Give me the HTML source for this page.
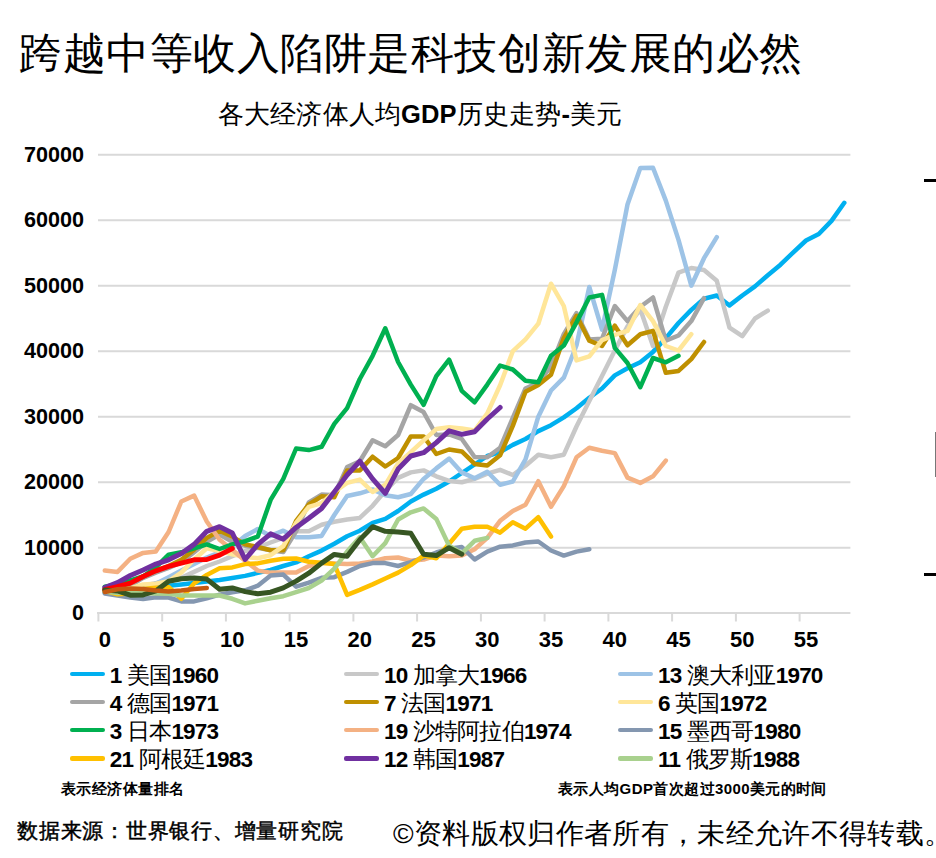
<!DOCTYPE html>
<html><head><meta charset="utf-8">
<style>
html,body{margin:0;padding:0;background:#fff;}
body{width:936px;height:858px;position:relative;overflow:hidden;font-family:"Liberation Sans",sans-serif;color:#000;}
.t{position:absolute;white-space:nowrap;}
#title{left:19px;top:28px;font-size:43px;line-height:50px;letter-spacing:0.55px;}
#sub{left:218px;top:99px;font-size:25.5px;line-height:30px;letter-spacing:0.15px;}
#sub b{font-weight:bold;}
.yl{position:absolute;right:852px;width:80px;text-align:right;font-size:21.6px;font-weight:bold;line-height:26px;}
.xl{position:absolute;top:627px;width:60px;text-align:center;font-size:22px;font-weight:bold;line-height:26px;}
.lgl{position:absolute;width:35.3px;height:4.2px;border-radius:2.1px;}
.lgt{position:absolute;font-size:22.5px;font-weight:bold;line-height:28px;white-space:nowrap;letter-spacing:-0.8px;}
.cj{font-weight:normal;}
#note1{left:61px;top:779px;font-size:15px;letter-spacing:0.45px;font-weight:bold;line-height:20px;}
#note2{left:558px;top:779px;font-size:15px;letter-spacing:0.4px;font-weight:bold;line-height:20px;}
#src{left:17px;top:817px;font-size:21px;letter-spacing:0.75px;font-weight:normal;-webkit-text-stroke:0.45px #000;line-height:28px;}
#copy{left:393px;top:815px;font-size:28px;line-height:38px;letter-spacing:0.33px;}
.mk{position:absolute;background:#000;}
</style></head><body>
<div class="t" id="title">跨越中等收入陷阱是科技创新发展的必然</div>
<div class="t" id="sub">各大经济体人均<b>GDP</b>历史走势<b>-</b>美元</div>
<svg width="936" height="858" style="position:absolute;left:0;top:0">
<line x1="98" y1="547.7" x2="850.4" y2="547.7" stroke="#D9D9D9" stroke-width="2"/>
<line x1="98" y1="482.2" x2="850.4" y2="482.2" stroke="#D9D9D9" stroke-width="2"/>
<line x1="98" y1="416.7" x2="850.4" y2="416.7" stroke="#D9D9D9" stroke-width="2"/>
<line x1="98" y1="351.2" x2="850.4" y2="351.2" stroke="#D9D9D9" stroke-width="2"/>
<line x1="98" y1="285.7" x2="850.4" y2="285.7" stroke="#D9D9D9" stroke-width="2"/>
<line x1="98" y1="220.2" x2="850.4" y2="220.2" stroke="#D9D9D9" stroke-width="2"/>
<line x1="98" y1="154.7" x2="850.4" y2="154.7" stroke="#D9D9D9" stroke-width="2"/>
<line x1="97" y1="613.1" x2="850.4" y2="613.1" stroke="#D9D9D9" stroke-width="2"/>
<line x1="98.4" y1="612" x2="98.4" y2="621.5" stroke="#D9D9D9" stroke-width="2"/>
<line x1="162.2" y1="612" x2="162.2" y2="621.5" stroke="#D9D9D9" stroke-width="2"/>
<line x1="225.9" y1="612" x2="225.9" y2="621.5" stroke="#D9D9D9" stroke-width="2"/>
<line x1="289.6" y1="612" x2="289.6" y2="621.5" stroke="#D9D9D9" stroke-width="2"/>
<line x1="353.4" y1="612" x2="353.4" y2="621.5" stroke="#D9D9D9" stroke-width="2"/>
<line x1="417.1" y1="612" x2="417.1" y2="621.5" stroke="#D9D9D9" stroke-width="2"/>
<line x1="480.9" y1="612" x2="480.9" y2="621.5" stroke="#D9D9D9" stroke-width="2"/>
<line x1="544.6" y1="612" x2="544.6" y2="621.5" stroke="#D9D9D9" stroke-width="2"/>
<line x1="608.4" y1="612" x2="608.4" y2="621.5" stroke="#D9D9D9" stroke-width="2"/>
<line x1="672.1" y1="612" x2="672.1" y2="621.5" stroke="#D9D9D9" stroke-width="2"/>
<line x1="735.9" y1="612" x2="735.9" y2="621.5" stroke="#D9D9D9" stroke-width="2"/>
<line x1="799.6" y1="612" x2="799.6" y2="621.5" stroke="#D9D9D9" stroke-width="2"/>
<path d="M104.8,592.7 L117.5,591.6 L130.3,590.3 L143.1,589.0 L155.8,587.7 L168.6,585.7 L181.3,584.4 L194.1,583.1 L206.8,581.5 L219.6,580.0 L232.3,578.1 L245.1,575.9 L257.8,572.9 L270.6,570.0 L283.3,566.0 L296.1,562.4 L308.8,556.2 L321.6,550.6 L334.3,543.8 L347.1,536.2 L359.8,530.7 L372.6,522.8 L385.3,518.9 L398.1,511.0 L410.8,501.5 L423.6,494.6 L436.3,488.8 L449.1,481.5 L461.8,473.0 L474.6,464.5 L487.3,456.0 L500.1,452.1 L512.8,444.9 L525.5,439.0 L538.3,431.1 L551.0,425.2 L563.8,417.4 L576.5,408.2 L589.3,397.7 L602.0,388.5 L614.8,375.4 L627.5,368.2 L640.3,362.3 L653.0,351.9 L665.8,338.1 L678.5,323.0 L691.3,309.9 L704.0,298.8 L716.8,295.5 L729.5,305.4 L742.3,295.5 L755.0,286.4 L767.8,275.2 L780.5,264.7 L793.3,252.3 L806.0,240.5 L818.8,234.0 L831.5,220.9 L844.3,202.8" fill="none" stroke="#00B0F0" stroke-width="4.5" stroke-linejoin="round" stroke-linecap="round"/>
<path d="M104.8,591.6 L117.5,590.3 L130.3,588.3 L143.1,585.7 L155.8,583.1 L168.6,580.5 L181.3,577.8 L194.1,571.9 L206.8,566.0 L219.6,561.5 L232.3,556.2 L245.1,551.0 L257.8,547.7 L270.6,542.5 L283.3,537.9 L296.1,531.3 L308.8,531.3 L321.6,524.8 L334.3,521.7 L347.1,519.5 L359.8,517.9 L372.6,505.8 L385.3,490.7 L398.1,477.9 L410.8,472.4 L423.6,470.4 L436.3,476.3 L449.1,480.9 L461.8,482.2 L474.6,478.9 L487.3,473.7 L500.1,469.8 L512.8,475.0 L525.5,465.8 L538.3,454.7 L551.0,457.3 L563.8,454.7 L576.5,426.5 L589.3,401.0 L602.0,376.1 L614.8,350.5 L627.5,326.3 L640.3,309.3 L653.0,346.0 L665.8,306.7 L678.5,272.6 L691.3,268.0 L704.0,270.0 L716.8,280.8 L729.5,327.6 L742.3,336.1 L755.0,318.5 L767.8,310.6" fill="none" stroke="#C8C8C8" stroke-width="4.5" stroke-linejoin="round" stroke-linecap="round"/>
<path d="M104.8,592.2 L117.5,593.6 L130.3,591.6 L143.1,588.3 L155.8,583.7 L168.6,577.2 L181.3,570.6 L194.1,564.1 L206.8,557.5 L219.6,552.3 L232.3,546.4 L245.1,535.9 L257.8,529.0 L270.6,535.9 L283.3,530.7 L296.1,537.2 L308.8,537.2 L321.6,535.9 L334.3,515.0 L347.1,496.0 L359.8,493.3 L372.6,489.4 L385.3,495.3 L398.1,497.3 L410.8,494.0 L423.6,478.9 L436.3,468.4 L449.1,458.6 L461.8,472.4 L474.6,478.3 L487.3,471.7 L500.1,484.8 L512.8,481.5 L525.5,459.3 L538.3,416.7 L551.0,390.5 L563.8,377.7 L576.5,345.3 L589.3,287.0 L602.0,329.6 L614.8,270.0 L627.5,204.5 L640.3,168.1 L653.0,167.8 L665.8,200.6 L678.5,239.9 L691.3,285.7 L704.0,258.2 L716.8,237.2" fill="none" stroke="#9DC3E6" stroke-width="4.5" stroke-linejoin="round" stroke-linecap="round"/>
<path d="M104.8,591.6 L117.5,589.6 L130.3,585.7 L143.1,577.8 L155.8,572.6 L168.6,568.0 L181.3,562.1 L194.1,552.3 L206.8,541.8 L219.6,534.6 L232.3,541.8 L245.1,545.7 L257.8,547.7 L270.6,550.3 L283.3,552.0 L296.1,531.3 L308.8,502.5 L321.6,494.6 L334.3,495.3 L347.1,467.1 L359.8,461.2 L372.6,440.3 L385.3,446.2 L398.1,435.0 L410.8,405.2 L423.6,412.1 L436.3,435.0 L449.1,434.4 L461.8,439.0 L474.6,457.0 L487.3,457.3 L500.1,447.8 L512.8,418.0 L525.5,388.5 L538.3,382.6 L551.0,366.3 L563.8,334.2 L576.5,313.2 L589.3,339.4 L602.0,338.8 L614.8,306.0 L627.5,321.1 L640.3,306.7 L653.0,297.5 L665.8,340.7 L678.5,335.5 L691.3,321.1 L704.0,298.1" fill="none" stroke="#A5A5A5" stroke-width="4.5" stroke-linejoin="round" stroke-linecap="round"/>
<path d="M104.8,589.6 L117.5,587.0 L130.3,583.1 L143.1,576.5 L155.8,570.6 L168.6,566.0 L181.3,559.8 L194.1,549.7 L206.8,537.9 L219.6,530.7 L232.3,536.6 L245.1,544.4 L257.8,547.0 L270.6,550.3 L283.3,550.3 L296.1,520.8 L308.8,504.5 L321.6,496.3 L334.3,497.3 L347.1,470.4 L359.8,470.4 L372.6,456.7 L385.3,466.5 L398.1,458.0 L410.8,436.4 L423.6,436.4 L436.3,454.0 L449.1,449.5 L461.8,451.4 L474.6,463.9 L487.3,465.5 L500.1,455.3 L512.8,425.9 L525.5,391.8 L538.3,384.9 L551.0,374.8 L563.8,338.1 L576.5,315.8 L589.3,340.7 L602.0,346.0 L614.8,325.7 L627.5,345.3 L640.3,334.2 L653.0,330.9 L665.8,372.8 L678.5,370.9 L691.3,359.1 L704.0,342.0" fill="none" stroke="#BF9000" stroke-width="4.5" stroke-linejoin="round" stroke-linecap="round"/>
<path d="M104.8,591.6 L117.5,590.3 L130.3,588.3 L143.1,584.4 L155.8,583.7 L168.6,581.1 L181.3,572.6 L194.1,559.5 L206.8,548.4 L219.6,551.0 L232.3,554.2 L245.1,556.9 L257.8,558.2 L270.6,555.2 L283.3,546.1 L296.1,522.8 L308.8,506.8 L321.6,503.2 L334.3,492.0 L347.1,482.9 L359.8,479.6 L372.6,492.0 L385.3,484.8 L398.1,463.5 L410.8,452.1 L423.6,440.3 L436.3,429.1 L449.1,427.2 L461.8,428.5 L474.6,430.5 L487.3,413.4 L500.1,385.3 L512.8,351.2 L525.5,339.4 L538.3,323.7 L551.0,283.7 L563.8,306.0 L576.5,360.4 L589.3,356.4 L602.0,340.1 L614.8,334.8 L627.5,330.9 L640.3,305.0 L653.0,321.1 L665.8,346.0 L678.5,350.5 L691.3,334.2" fill="none" stroke="#FFE699" stroke-width="4.5" stroke-linejoin="round" stroke-linecap="round"/>
<path d="M104.8,570.6 L117.5,571.9 L130.3,558.8 L143.1,552.9 L155.8,551.6 L168.6,532.0 L181.3,501.5 L194.1,495.6 L206.8,521.5 L219.6,539.8 L232.3,549.7 L245.1,560.8 L257.8,570.6 L270.6,572.6 L283.3,572.6 L296.1,572.6 L308.8,566.0 L321.6,562.8 L334.3,563.4 L347.1,564.1 L359.8,563.4 L372.6,561.5 L385.3,558.2 L398.1,557.5 L410.8,560.8 L423.6,559.5 L436.3,555.6 L449.1,556.2 L461.8,555.6 L474.6,549.2 L487.3,537.9 L500.1,520.8 L512.8,511.0 L525.5,504.8 L538.3,481.2 L551.0,506.8 L563.8,486.1 L576.5,457.3 L589.3,447.8 L602.0,450.8 L614.8,453.1 L627.5,477.6 L640.3,482.9 L653.0,476.3 L665.8,460.6" fill="none" stroke="#F4B183" stroke-width="4.5" stroke-linejoin="round" stroke-linecap="round"/>
<path d="M104.8,586.7 L117.5,584.4 L130.3,580.5 L143.1,576.5 L155.8,567.4 L168.6,554.6 L181.3,552.3 L194.1,548.4 L206.8,544.4 L219.6,549.0 L232.3,544.4 L245.1,541.2 L257.8,536.6 L270.6,499.9 L283.3,478.9 L296.1,448.5 L308.8,450.1 L321.6,446.8 L334.3,423.9 L347.1,408.2 L359.8,379.0 L372.6,355.8 L385.3,328.3 L398.1,362.0 L410.8,384.6 L423.6,404.9 L436.3,376.1 L449.1,359.7 L461.8,390.8 L474.6,402.3 L487.3,384.6 L500.1,365.6 L512.8,369.5 L525.5,380.7 L538.3,382.3 L551.0,355.8 L563.8,345.6 L576.5,322.4 L589.3,297.5 L602.0,294.9 L614.8,347.9 L627.5,363.0 L640.3,387.2 L653.0,358.0 L665.8,362.3 L678.5,355.8" fill="none" stroke="#00B050" stroke-width="4.5" stroke-linejoin="round" stroke-linecap="round"/>
<path d="M104.8,593.6 L117.5,595.5 L130.3,597.5 L143.1,599.1 L155.8,597.2 L168.6,597.5 L181.3,601.4 L194.1,601.4 L206.8,598.3 L219.6,594.6 L232.3,592.2 L245.1,590.3 L257.8,585.7 L270.6,575.5 L283.3,574.6 L296.1,586.7 L308.8,582.7 L321.6,577.8 L334.3,577.2 L347.1,571.9 L359.8,566.0 L372.6,563.1 L385.3,563.1 L398.1,566.0 L410.8,562.1 L423.6,557.5 L436.3,552.5 L449.1,548.7 L461.8,547.0 L474.6,559.5 L487.3,551.6 L500.1,546.7 L512.8,545.4 L525.5,542.5 L538.3,541.5 L551.0,550.5 L563.8,555.6 L576.5,551.6 L589.3,549.2" fill="none" stroke="#8497B0" stroke-width="4.5" stroke-linejoin="round" stroke-linecap="round"/>
<path d="M104.8,590.9 L117.5,594.2 L130.3,593.6 L143.1,589.0 L155.8,587.7 L168.6,587.0 L181.3,598.8 L194.1,583.4 L206.8,574.9 L219.6,568.2 L232.3,567.4 L245.1,564.1 L257.8,563.4 L270.6,560.8 L283.3,558.8 L296.1,558.5 L308.8,561.8 L321.6,562.8 L334.3,564.1 L347.1,594.9 L359.8,589.9 L372.6,584.4 L385.3,578.5 L398.1,572.6 L410.8,565.1 L423.6,555.6 L436.3,558.2 L449.1,543.8 L461.8,528.7 L474.6,526.7 L487.3,526.7 L500.1,532.6 L512.8,522.2 L525.5,528.7 L538.3,517.2 L551.0,536.6" fill="none" stroke="#FFC000" stroke-width="4.5" stroke-linejoin="round" stroke-linecap="round"/>
<path d="M104.8,587.7 L117.5,582.7 L130.3,575.5 L143.1,570.0 L155.8,564.1 L168.6,559.8 L181.3,553.6 L194.1,544.4 L206.8,531.3 L219.6,526.7 L232.3,533.0 L245.1,559.5 L257.8,544.4 L270.6,533.9 L283.3,539.2 L296.1,527.4 L308.8,518.2 L321.6,508.4 L334.3,492.0 L347.1,475.0 L359.8,461.2 L372.6,478.9 L385.3,493.3 L398.1,469.1 L410.8,456.0 L423.6,452.7 L436.3,442.6 L449.1,430.8 L461.8,434.4 L474.6,431.8 L487.3,419.0 L500.1,407.5" fill="none" stroke="#7030A0" stroke-width="5" stroke-linejoin="round" stroke-linecap="round"/>
<path d="M104.8,591.6 L117.5,592.9 L130.3,592.2 L143.1,592.9 L155.8,593.6 L168.6,593.8 L181.3,595.5 L194.1,595.5 L206.8,595.5 L219.6,595.5 L232.3,598.8 L245.1,603.4 L257.8,600.8 L270.6,598.3 L283.3,596.2 L296.1,592.2 L308.8,588.0 L321.6,580.5 L334.3,568.7 L347.1,551.6 L359.8,537.2 L372.6,556.2 L385.3,543.1 L398.1,519.5 L410.8,512.3 L423.6,508.4 L436.3,518.9 L449.1,545.7 L461.8,553.3 L474.6,540.8 L487.3,537.9" fill="none" stroke="#A9D18E" stroke-width="4.5" stroke-linejoin="round" stroke-linecap="round"/>
<path d="M104.8,589.6 L117.5,586.7 L130.3,583.1 L143.1,576.5 L155.8,570.8 L168.6,566.4 L181.3,563.1 L194.1,559.8 L206.8,559.5 L219.6,555.1 L232.3,548.5" fill="none" stroke="#FF0000" stroke-width="5" stroke-linejoin="round" stroke-linecap="round"/>
<path d="M104.8,589.9 L117.5,590.9 L130.3,595.2 L143.1,594.9 L155.8,590.9 L168.6,581.3 L181.3,578.7 L194.1,578.1 L206.8,579.1 L219.6,589.3 L232.3,587.9 L245.1,591.6 L257.8,593.8 L270.6,592.2 L283.3,587.9 L296.1,581.1 L308.8,573.2 L321.6,563.1 L334.3,554.4 L347.1,556.2 L359.8,539.8 L372.6,526.7 L385.3,531.3 L398.1,532.0 L410.8,533.3 L423.6,554.2 L436.3,555.6 L449.1,547.7 L461.8,554.2" fill="none" stroke="#375623" stroke-width="5" stroke-linejoin="round" stroke-linecap="round"/>
<path d="M104.8,592.0 L117.5,589.3 L130.3,588.6 L143.1,589.0 L155.8,590.6 L168.6,591.6 L181.3,590.6 L194.1,589.0 L206.8,588.0" fill="none" stroke="#C55A11" stroke-width="4.5" stroke-linejoin="round" stroke-linecap="round"/>
</svg>
<div class="yl" style="top:600.2px">0</div><div class="yl" style="top:534.7px">10000</div><div class="yl" style="top:469.2px">20000</div><div class="yl" style="top:403.7px">30000</div><div class="yl" style="top:338.2px">40000</div><div class="yl" style="top:272.7px">50000</div><div class="yl" style="top:207.2px">60000</div><div class="yl" style="top:141.7px">70000</div>
<div class="xl" style="left:74.8px">0</div><div class="xl" style="left:138.6px">5</div><div class="xl" style="left:202.3px">10</div><div class="xl" style="left:266.1px">15</div><div class="xl" style="left:329.8px">20</div><div class="xl" style="left:393.6px">25</div><div class="xl" style="left:457.3px">30</div><div class="xl" style="left:521.0px">35</div><div class="xl" style="left:584.8px">40</div><div class="xl" style="left:648.5px">45</div><div class="xl" style="left:712.3px">50</div><div class="xl" style="left:776.0px">55</div>
<div class="lgl" style="left:69.9px;top:671.9px;background:#00B0F0"></div><div class="lgt" style="left:109.8px;top:661.5px">1 <span class="cj">美国</span>1960</div><div class="lgl" style="left:343.5px;top:671.9px;background:#C8C8C8"></div><div class="lgt" style="left:384px;top:661.5px">10 <span class="cj">加拿大</span>1966</div><div class="lgl" style="left:617.8px;top:671.9px;background:#9DC3E6"></div><div class="lgt" style="left:658px;top:661.5px">13 <span class="cj">澳大利亚</span>1970</div><div class="lgl" style="left:69.9px;top:699.9px;background:#A5A5A5"></div><div class="lgt" style="left:109.8px;top:689.5px">4 <span class="cj">德国</span>1971</div><div class="lgl" style="left:343.5px;top:699.9px;background:#BF9000"></div><div class="lgt" style="left:384px;top:689.5px">7 <span class="cj">法国</span>1971</div><div class="lgl" style="left:617.8px;top:699.9px;background:#FFE699"></div><div class="lgt" style="left:658px;top:689.5px">6 <span class="cj">英国</span>1972</div><div class="lgl" style="left:69.9px;top:727.9px;background:#00B050"></div><div class="lgt" style="left:109.8px;top:717.5px">3 <span class="cj">日本</span>1973</div><div class="lgl" style="left:343.5px;top:727.9px;background:#F4B183"></div><div class="lgt" style="left:384px;top:717.5px">19 <span class="cj">沙特阿拉伯</span>1974</div><div class="lgl" style="left:617.8px;top:727.9px;background:#8497B0"></div><div class="lgt" style="left:658px;top:717.5px">15 <span class="cj">墨西哥</span>1980</div><div class="lgl" style="left:69.9px;top:756.4px;background:#FFC000"></div><div class="lgt" style="left:109.8px;top:746.0px">21 <span class="cj">阿根廷</span>1983</div><div class="lgl" style="left:343.5px;top:756.4px;background:#7030A0"></div><div class="lgt" style="left:384px;top:746.0px">12 <span class="cj">韩国</span>1987</div><div class="lgl" style="left:617.8px;top:756.4px;background:#A9D18E"></div><div class="lgt" style="left:658px;top:746.0px">11 <span class="cj">俄罗斯</span>1988</div>
<div class="t" id="note1">表示经济体量排名</div>
<div class="t" id="note2">表示人均GDP首次超过3000美元的时间</div>
<div class="t" id="src">数据来源：世界银行、增量研究院</div>
<div class="t" id="copy">©资料版权归作者所有，未经允许不得转载。</div>
<div class="mk" style="left:924px;top:179px;width:12px;height:3px"></div>
<div class="mk" style="left:924px;top:573px;width:12px;height:3px"></div>
<div class="mk" style="left:934.5px;top:432px;width:1.5px;height:45px;background:#777"></div>
</body></html>
